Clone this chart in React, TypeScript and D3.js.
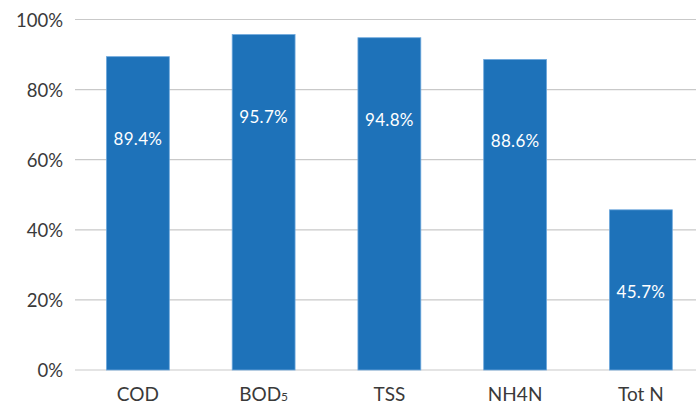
import React from 'react'
import * as d3 from 'd3'

const categories = ['COD', 'BOD5', 'TSS', 'NH4N', 'Tot N']
const values = [89.4, 95.7, 94.8, 88.6, 45.7]
const yTicks = [0, 20, 40, 60, 80, 100]

function Label ({ name }: { name: string }) {
  if (name === 'BOD5') {
    return <>BOD<tspan fontSize={12}>5</tspan></>
  }
  return <>{name}</>
}

export default function App () {
  const width = 696
  const height = 405
  const left = 75
  const x = d3.scaleBand<string>()
    .domain(categories)
    .range([left, 703.75])
    .paddingInner(0.5)
    .paddingOuter(0.25)
  const y = d3.scaleLinear().domain([0, 100]).range([370, 19.5])
  const font = 'Lato, "Open Sans", sans-serif'

  return (
    <svg width={width} height={height} style={{ position: 'absolute', left: 0, top: 0 }}>
      <rect width={width} height={height} fill='#fff' />
      {yTicks.map(t => (
        <g key={t}>
          <line x1={left} x2={width} y1={y(t)} y2={y(t)} stroke='#c9c9c9' strokeWidth={1.2} />
          <text x={63} y={y(t) + 1} dy='0.35em' textAnchor='end' fontSize={18.5} fill='#3a3a3a' fontFamily={font}>
            {t}%
          </text>
        </g>
      ))}
      {categories.map((c, i) => {
        const bx = x(c) as number
        const top = y(values[i])
        return (
          <g key={c}>
            <rect x={bx} y={top} width={x.bandwidth()} height={y(0) - top}
              fill='#1e72b9' stroke='#6ea8dd' strokeWidth={0.8} />
            <text x={bx + x.bandwidth() / 2} y={top + 82} dy='0.35em' textAnchor='middle'
              fontSize={17} letterSpacing={0.3} fill='#fff' fontFamily={font}>
              {values[i].toFixed(1)}%
            </text>
            <text x={bx + x.bandwidth() / 2} y={394} dy='0.35em' textAnchor='middle'
              fontSize={19} fill='#3a3a3a' fontFamily={font}>
              <Label name={c} />
            </text>
          </g>
        )
      })}
    </svg>
  )
}
